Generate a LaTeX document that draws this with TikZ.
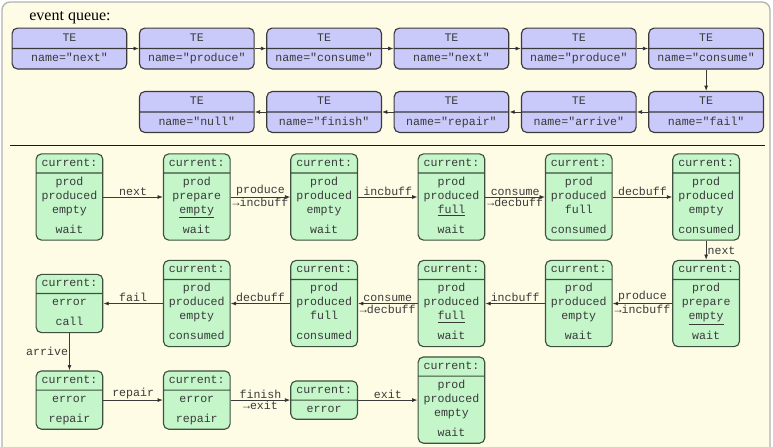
\documentclass[tikz,border=0pt]{standalone}
\usepackage{fontspec}
\setmainfont{Liberation Serif}
\setmonofont{Liberation Mono}
\usepackage{tikz}
\usetikzlibrary{positioning,shapes.multipart,arrows.meta}
\definecolor{queue-bg}{RGB}{255,252,229}
\definecolor{te-blue}{RGB}{201,201,250}
\definecolor{state-green}{RGB}{196,246,202}
\definecolor{state-edge}{RGB}{62,80,62}
\definecolor{ink}{RGB}{58,58,58}

\tikzset{
  tbox/.style={rectangle split, rectangle split parts=2, draw=ink, fill=te-blue,
    line width=0.85pt, rounded corners=4pt, minimum width=86pt, inner ysep=2pt,
    text=ink, font={\ttfamily\fontsize{8.7}{10.5}\selectfont}},
  sbox/.style={rectangle split, rectangle split parts=2, draw=state-edge, fill=state-green,
    line width=0.85pt, rounded corners=4pt, minimum width=50pt, inner ysep=1.5pt,
    align=center, text=ink, font={\ttfamily\fontsize{8.7}{10.5}\selectfont\lineskiplimit=-2pt}},
  flow/.style={draw=ink, line width=0.6pt, -{Latex[length=4pt,width=3pt]}},
  lbl/.style={inner sep=0.8pt, text=ink, font={\ttfamily\fontsize{8.7}{10.5}\selectfont}}
}

\begin{document}
\begin{tikzpicture}[node distance=95.5pt]
		\useasboundingbox (0,0) rectangle (579.75pt,-334.5pt);
		
		% Draw the backdrop and the heading
		\draw[draw=gray!60, line width=1pt, fill=queue-bg, rounded corners=6pt] (1.5pt,-1.5pt) rectangle (577.5pt,-345pt);
		\node (title) [anchor=base west, font=\fontsize{12}{14}\selectfont] at (18.5pt,-15pt) {event queue:};
		
		% Draw the first row of timed events
		\node (tnext1) [tbox] at (52.1pt,-36.4pt) {\strut TE\nodepart{two}\strut name="next"};
		\node (tproduce1) [tbox, right of=tnext1] {\strut TE\nodepart{two}\strut name="produce"};
		\node (tconsume1) [tbox, right of=tproduce1] {\strut TE\nodepart{two}\strut name="consume"};
		\node (tnext2) [tbox, right of=tconsume1] {\strut TE\nodepart{two}\strut name="next"};
		\node (tproduce2) [tbox, right of=tnext2] {\strut TE\nodepart{two}\strut name="produce"};
		\node (tconsume2) [tbox, right of=tproduce2] {\strut TE\nodepart{two}\strut name="consume"};
		
		% Draw the second row of timed events
		\node (tfail) [tbox, node distance=47.6pt, below of=tconsume2] {\strut TE\nodepart{two}\strut name="fail"};
		\node (tarrive) [tbox, left of=tfail] {\strut TE\nodepart{two}\strut name="arrive"};
		\node (trepair) [tbox, left of=tarrive] {\strut TE\nodepart{two}\strut name="repair"};
		\node (tfinish) [tbox, left of=trepair] {\strut TE\nodepart{two}\strut name="finish"};
		\node (tnull) [tbox, left of=tfinish] {\strut TE\nodepart{two}\strut name="null"};
		
		% Link the queue
		\draw[flow] (tnext1) -- (tproduce1);
		\draw[flow] (tproduce1) -- (tconsume1);
		\draw[flow] (tconsume1) -- (tnext2);
		\draw[flow] (tnext2) -- (tproduce2);
		\draw[flow] (tproduce2) -- (tconsume2);
		\draw[flow] (tconsume2) -- (tfail);
		\draw[flow] (tfail) -- (tarrive);
		\draw[flow] (tarrive) -- (trepair);
		\draw[flow] (trepair) -- (tfinish);
		\draw[flow] (tfinish) -- (tnull);
		
		% Separate the queue from the states
		\draw[line width=0.6pt, draw=black!90] (7.5pt,-108.75pt) -- (573.75pt,-108.75pt);
		
		% Draw the first row of states
		\node (st1) [sbox] at (52.1pt,-147.75pt) {\strut current:\nodepart{two}\strut prod\\produced\\empty\\[4.5pt]wait\strut};
		\node (st2) [sbox, right of=st1] {\strut current:\nodepart{two}\strut prod\\prepare\\\underline{empty}\\[4.5pt]wait\strut};
		\node (st3) [sbox, right of=st2] {\strut current:\nodepart{two}\strut prod\\produced\\empty\\[4.5pt]wait\strut};
		\node (st4) [sbox, right of=st3] {\strut current:\nodepart{two}\strut prod\\produced\\\underline{full}\\[4.5pt]wait\strut};
		\node (st5) [sbox, right of=st4] {\strut current:\nodepart{two}\strut prod\\produced\\full\\[4.5pt]consumed\strut};
		\node (st6) [sbox, right of=st5] {\strut current:\nodepart{two}\strut prod\\produced\\empty\\[4.5pt]consumed\strut};
		
		% Draw the second row of states
		\node (st7) [sbox, node distance=79.9pt, below of=st6] {\strut current:\nodepart{two}\strut prod\\prepare\\\underline{empty}\\[4.5pt]wait\strut};
		\node (st8) [sbox, left of=st7] {\strut current:\nodepart{two}\strut prod\\produced\\empty\\[4.5pt]wait\strut};
		\node (st9) [sbox, left of=st8] {\strut current:\nodepart{two}\strut prod\\produced\\\underline{full}\\[4.5pt]wait\strut};
		\node (st10) [sbox, left of=st9] {\strut current:\nodepart{two}\strut prod\\produced\\full\\[4.5pt]consumed\strut};
		\node (st11) [sbox, left of=st10] {\strut current:\nodepart{two}\strut prod\\produced\\empty\\[4.5pt]consumed\strut};
		\node (st12) [sbox, left of=st11] {\strut current:\nodepart{two}\strut error\\[4.5pt]call\strut};
		
		% Draw the third row of states
		\node (st13) [sbox, node distance=72.4pt, below of=st12] {\strut current:\nodepart{two}\strut error\\[4.5pt]repair\strut};
		\node (st14) [sbox, right of=st13] {\strut current:\nodepart{two}\strut error\\[4.5pt]repair\strut};
		\node (st15) [sbox, right of=st14] {\strut current:\nodepart{two}\strut error};
		\node (st16) [sbox, right of=st15] {\strut current:\nodepart{two}\strut prod\\produced\\empty\\[4.5pt]wait\strut};
		
		% Connect the states with the events
		\draw[flow] (st1) -- node[lbl, above] {next} (st2);
		\draw[flow] (st2) -- node[lbl, above] {produce} node[lbl, below] {→incbuff} (st3);
		\draw[flow] (st3) -- node[lbl, above] {incbuff} (st4);
		\draw[flow] (st4) -- node[lbl, above] {consume} node[lbl, below] {→decbuff} (st5);
		\draw[flow] (st5) -- node[lbl, above] {decbuff} (st6);
		\draw[flow] (st6) -- node[lbl, right] {next} (st7);
		\draw[flow] (st7) -- node[lbl, above] {produce} node[lbl, below] {→incbuff} (st8);
		\draw[flow] (st8) -- node[lbl, above] {incbuff} (st9);
		\draw[flow] (st9) -- node[lbl, above] {consume} node[lbl, below] {→decbuff} (st10);
		\draw[flow] (st10) -- node[lbl, above] {decbuff} (st11);
		\draw[flow] (st11) -- node[lbl, above] {fail} (st12);
		\draw[flow] (st12) -- node[lbl, left] {arrive} (st13);
		\draw[flow] (st13) -- node[lbl, above] {repair} (st14);
		\draw[flow] (st14) -- node[lbl, above] {finish} node[lbl, below] {→exit} (st15);
		\draw[flow] (st15) -- node[lbl, above] {exit} (st16);
		\end{tikzpicture}
\end{document}
